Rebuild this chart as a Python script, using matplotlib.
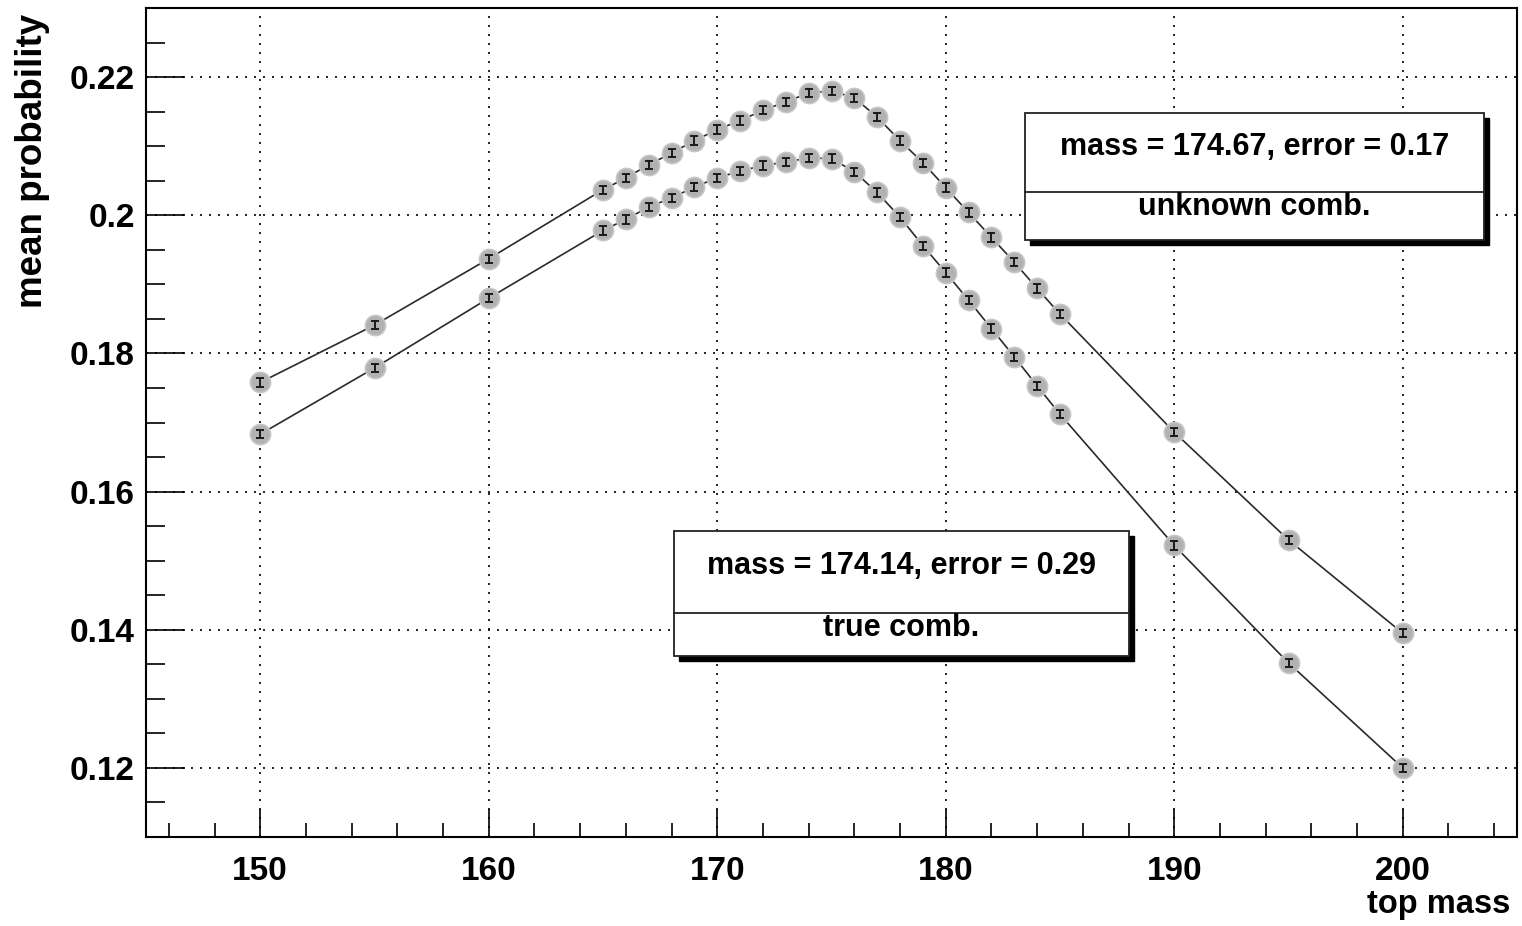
import numpy as np
import matplotlib
matplotlib.use("Agg")
import matplotlib.pyplot as plt
from matplotlib.patches import Rectangle
from matplotlib.ticker import MultipleLocator
from matplotlib.lines import Line2D

plt.rcParams['font.family'] = ['Liberation Sans', 'DejaVu Sans']
plt.rcParams['font.weight'] = 'bold'

# top mass points (GeV)
masses = [150, 155, 160, 165, 166, 167, 168, 169, 170, 171, 172, 173, 174, 175,
          176, 177, 178, 179, 180, 181, 182, 183, 184, 185, 190, 195, 200]
# mean probability, unknown combination
prob_unknown = [0.1758, 0.1841, 0.1937, 0.2037, 0.2054, 0.2073, 0.2090, 0.2108,
                0.2124, 0.2137, 0.2152, 0.2164, 0.2177, 0.2180, 0.2170, 0.2142,
                0.2108, 0.2076, 0.2040, 0.2004, 0.1968, 0.1932, 0.1894, 0.1857,
                0.1686, 0.1530, 0.1395]
# mean probability, true combination
prob_true = [0.1683, 0.1779, 0.1880, 0.1978, 0.1994, 0.2012, 0.2025, 0.2041,
             0.2054, 0.2064, 0.2072, 0.2077, 0.2083, 0.2082, 0.2063, 0.2033,
             0.1997, 0.1956, 0.1917, 0.1877, 0.1836, 0.1795, 0.1753, 0.1712,
             0.1522, 0.1352, 0.1200]
err_unknown = [0.0006] * len(masses)
err_true = [0.0006] * len(masses)

fit_unknown = "mass = 174.67, error = 0.17"
fit_true = "mass = 174.14, error = 0.29"
name_unknown = "unknown comb."
name_true = "true comb."

W, H = 1522, 926
fig = plt.figure(figsize=(W / 100, H / 100), dpi=100)
ax = fig.add_axes([146 / W, 1 - 837 / H, (1517 - 146) / W, (837 - 8) / H])

for y, e in [(prob_unknown, err_unknown), (prob_true, err_true)]:
    ax.plot(masses, y, color='#2a2a2a', lw=1.2, zorder=3)
    ax.plot(masses, y, 'o', ms=14.5, color='#b2b2b2', mec='#c6c6c6', mew=1.2, zorder=4)
    ax.errorbar(masses, y, yerr=e, fmt='none', ecolor='#1a1a1a', elinewidth=1.4,
                capsize=3.2, capthick=1.4, zorder=5)

ax.set_xlim(145, 205)
ax.set_ylim(0.11, 0.23)
ax.xaxis.set_minor_locator(MultipleLocator(2))
ax.yaxis.set_minor_locator(MultipleLocator(0.005))
ax.set_xticks([150, 160, 170, 180, 190, 200])
ax.set_xticklabels(['150', '160', '170', '180', '190', '200'])
ax.set_yticks([0.12, 0.14, 0.16, 0.18, 0.2, 0.22])
ax.set_yticklabels(['0.12', '0.14', '0.16', '0.18', '0.2', '0.22'])
ax.tick_params(which='major', direction='in', length=20, width=1.2, labelsize=24)
ax.tick_params(axis='x', which='major', pad=14)
ax.tick_params(axis='y', which='major', length=28, pad=8)
ax.tick_params(axis='x', which='minor', direction='in', length=10, width=1.2)
ax.tick_params(axis='y', which='minor', direction='in', length=14, width=1.2)
for s in ax.spines.values():
    s.set_linewidth(1.5)
ax.grid(True, which='major', color='black', lw=1.2, linestyle=(0, (1.2, 4.2)), zorder=1)
ax.set_axisbelow(True)

fig.text(1510 / W, 1 - 904 / H, 'top mass', ha='right', va='center', fontsize=23.5)
fig.text(33 / W, 1 - 14 / H, 'mean probability', ha='center', va='top',
         rotation=90, fontsize=26.5)


def stat_box(l, r, t, b, mid, line1, line2):
    tr = fig.transFigure
    fig.patches.append(Rectangle(((l + 5) / W, 1 - (b + 5) / H), (r - l) / W, (b - t) / H,
                                 transform=tr, facecolor='black', edgecolor='black', zorder=6))
    fig.patches.append(Rectangle((l / W, 1 - b / H), (r - l) / W, (b - t) / H,
                                 transform=tr, facecolor='white', edgecolor='#222222',
                                 lw=1.3, zorder=7))
    fig.lines.append(Line2D([l / W, r / W], [1 - mid / H, 1 - mid / H], transform=tr,
                            color='#222222', lw=1.3, zorder=8))
    cx = (l + r) / 2 / W
    fig.text(cx, 1 - ((t + mid) / 2 - 6) / H, line1, ha='center', va='center', fontsize=22, zorder=9)
    fig.text(cx, 1 - (mid + 15) / H, line2, ha='center', va='center', fontsize=22, zorder=9)


stat_box(1025, 1484, 113, 240, 192, fit_unknown, name_unknown)
stat_box(674, 1129, 531, 656, 613, fit_true, name_true)

fig.savefig('out.png', dpi=100)
